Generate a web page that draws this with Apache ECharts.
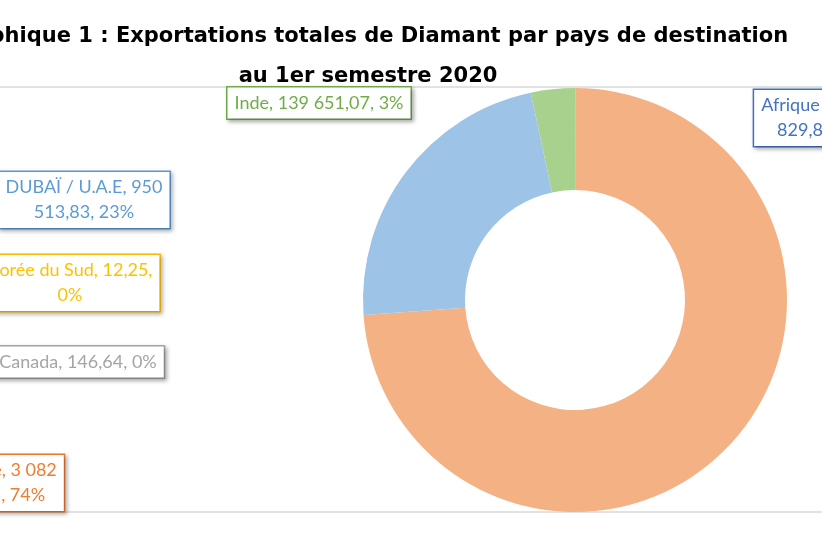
<!DOCTYPE html>
<html><head><meta charset="utf-8">
<script src="https://cdn.jsdelivr.net/npm/echarts@6/dist/echarts.min.js"></script>
<style>html,body{margin:0;padding:0;background:#fff}#c{width:822px;height:540px}</style>
</head><body><div id="c"></div>
<script>
const countries = ["Afrique du Sud", "Belgique", "Canada", "Corée du Sud", "DUBAÏ / U.A.E", "Inde"];
const values = [829.86, 3082562.51, 146.64, 12.25, 950513.83, 139651.07];
const labelTexts = [
  "Afrique du Sud,\n829,86, 0%",
  "Belgique, 3 082\n562,51, 74%",
  "Canada, 146,64, 0%",
  "Corée du Sud, 12,25,\n0%",
  "DUBAÏ / U.A.E, 950\n513,83, 23%",
  "Inde, 139 651,07, 3%"
];
const sliceColors = ["#8FAADC", "#F4B183", "#C9C9C9", "#FFD966", "#9DC3E6", "#A9D18E"];
const textColors = ["#4472C4", "#ED7D31", "#A5A5A5", "#FFC000", "#5B9BD5", "#70AD47"];
const labelPos = [[822,118],[-5,483],[78,362],[70,283],[84,200],[319,103]];

const chart = echarts.init(document.getElementById('c'));
chart.setOption({
  animation: false,
  title: {
    text: "Graphique 1 : Exportations totales de Diamant par pays de destination\nau 1er semestre 2020",
    left: 363, top: 12, textAlign: 'center',
    textStyle: {fontFamily: 'DejaVu Sans', fontWeight: 'bold', fontSize: 21, color: '#000', lineHeight: 40}
  },
  graphic: [
    {type:'line', shape:{x1:0,y1:87,x2:822,y2:87}, style:{stroke:'#d9d9d9',lineWidth:1.5}},
    {type:'line', shape:{x1:0,y1:512,x2:822,y2:512}, style:{stroke:'#d9d9d9',lineWidth:1.5}}
  ],
  series: [{
    type: 'pie',
    center: [575, 300],
    radius: [110, 212],
    startAngle: 90,
    clockwise: true,
    avoidLabelOverlap: false,
    labelLine: {show: false},
    data: countries.map((n, i) => ({
      name: n, value: values[i],
      itemStyle: {color: sliceColors[i]},
      label: {formatter: labelTexts[i], color: textColors[i], borderColor: textColors[i]}
    })),
    label: {
      show: true,
      fontFamily: 'Lato',
      fontSize: 18,
      lineHeight: 25,
      align: 'center',
      backgroundColor: '#fff',
      borderWidth: 1.5,
      padding: [3, 7],
      shadowColor: 'rgba(0,0,0,0.25)',
      shadowBlur: 4, shadowOffsetX: 2, shadowOffsetY: 2
    },
    labelLayout: function (p) {
      return {x: labelPos[p.dataIndex][0], y: labelPos[p.dataIndex][1], align: 'center', verticalAlign: 'middle'};
    }
  }]
});
</script></body></html>
